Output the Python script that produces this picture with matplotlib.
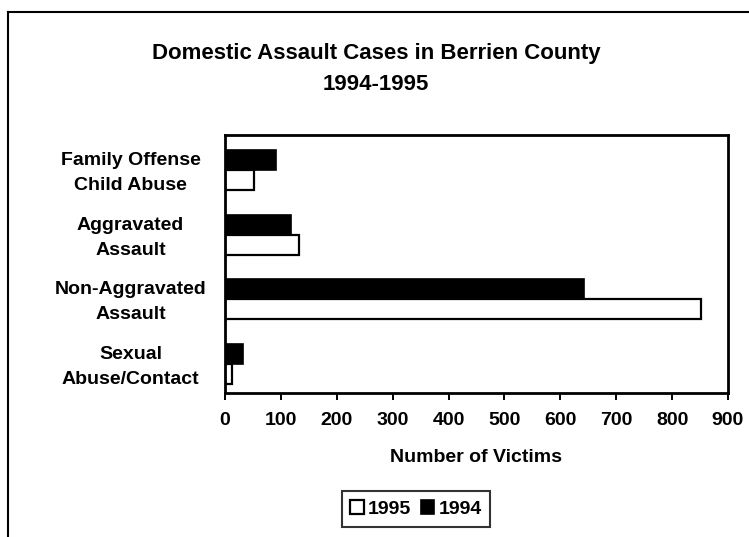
import numpy as np
import matplotlib
matplotlib.use("Agg")
import matplotlib.pyplot as plt
from matplotlib.lines import Line2D

# data (top to bottom)
categories = ["Family Offense\nChild Abuse", "Aggravated\nAssault",
              "Non-Aggravated\nAssault", "Sexual\nAbuse/Contact"]
victims_1994 = [91, 118, 643, 32]
victims_1995 = [52, 133, 851, 12]
xticks = [0, 100, 200, 300, 400, 500, 600, 700, 800, 900]

plt.rcParams['font.family'] = ['Liberation Sans', 'DejaVu Sans']
plt.rcParams['font.weight'] = 'bold'

W, H = 749, 537
fig = plt.figure(figsize=(W/100, H/100), dpi=100)
ax = fig.add_axes([225/W, 1-393/H, (728-225)/W, (393-135)/H])

n = len(categories)
pos = np.arange(n)[::-1]
h = 20/64.5
ax.barh(pos + h/2 - 0.045, victims_1994, height=h, color='black', edgecolor='black', lw=1.2, label='1994')
ax.barh(pos - h/2 - 0.045, victims_1995, height=h, color='white', edgecolor='black', lw=1.6, label='1995')

ax.set_xlim(0, 900)
ax.set_ylim(-0.5, n-0.5)
ax.set_xticks(xticks)
ax.set_xticklabels([str(t) for t in xticks], fontsize=14, fontweight='bold')
ax.set_yticks(pos)
ax.set_yticklabels(categories, fontsize=14, fontweight='bold', ha='center', linespacing=1.6)
ax.tick_params(axis='y', length=0, pad=68)
ax.tick_params(axis='x', direction='out', length=5, width=1.4, pad=9)
for s in ax.spines.values():
    s.set_linewidth(2)
ax.set_xlabel("Number of Victims", fontsize=14, fontweight='bold', labelpad=14)

fig.text(376/W, 1-53/H, "Domestic Assault Cases in Berrien County",
         ha='center', va='center', fontsize=16, fontweight='bold')
fig.text(376/W, 1-85/H, "1994-1995",
         ha='center', va='center', fontsize=16, fontweight='bold')

handles, labels = ax.get_legend_handles_labels()
leg = fig.legend(handles[::-1], labels[::-1], loc='center', bbox_to_anchor=(416/W, 1-509/H),
                 ncol=2, fontsize=14, frameon=True, fancybox=False, edgecolor='black',
                 handlelength=0.7, handleheight=0.7, handletextpad=0.2, columnspacing=0.5,
                 borderpad=0.45)
leg.get_frame().set_linewidth(1.5)

# outer chart border (only left and top edges fall inside the picture)
fig.add_artist(Line2D([8/W, 8/W], [0, 1-12/H], transform=fig.transFigure, color='black', lw=1.5))
fig.add_artist(Line2D([8/W, 1], [1-12/H, 1-12/H], transform=fig.transFigure, color='black', lw=1.5))

fig.savefig("out.png", dpi=100)
